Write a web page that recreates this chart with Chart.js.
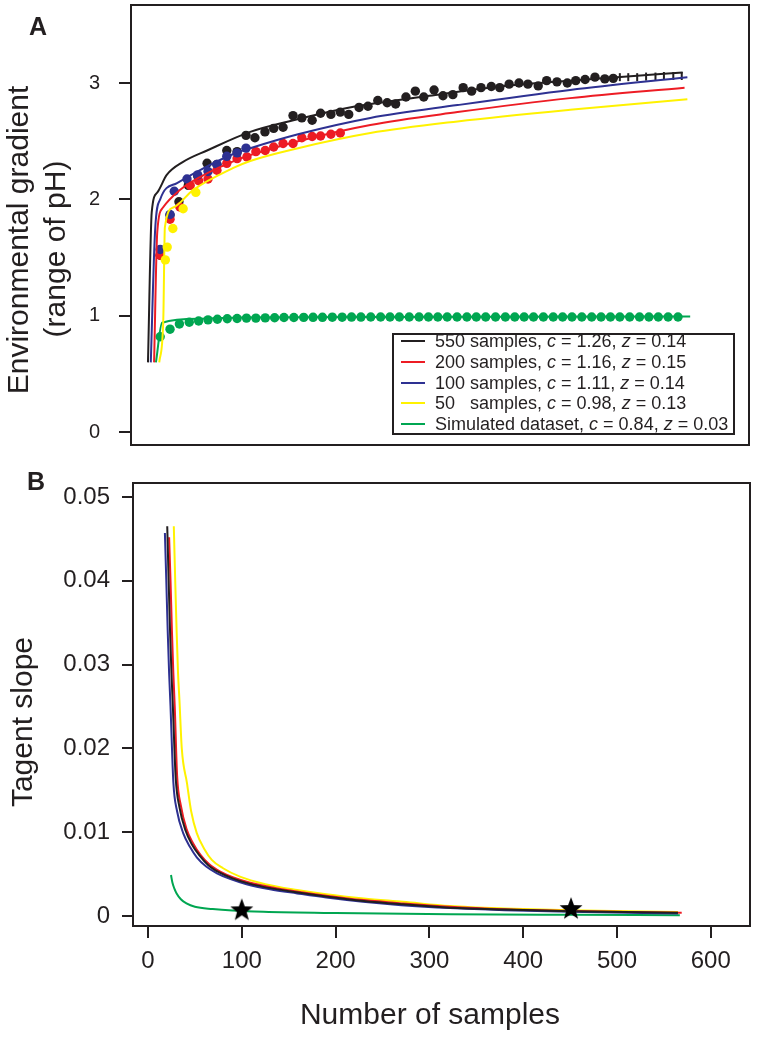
<!DOCTYPE html>
<html><head><meta charset="utf-8">
<script src="https://cdn.jsdelivr.net/npm/chart.js@4.4.1/dist/chart.umd.min.js"></script>
<style>
html,body{margin:0;padding:0;background:#fff;}
body{width:759px;height:1040px;position:relative;overflow:hidden;font-family:"Liberation Sans",Arial,sans-serif;color:#231f20;}
canvas{position:absolute;left:0;}
#cA{top:0;}
#cB{top:470px;}
.lbl{position:absolute;white-space:pre;}
.rot{text-align:center;transform:rotate(-90deg);font-size:30px;line-height:30px;height:30px;width:420px;}
.ttl{font-size:30px;line-height:30px;height:30px;width:400px;text-align:center;}
.panel{font-weight:bold;font-size:25px;line-height:25px;}
#legendBox{position:absolute;left:392px;top:333px;width:343px;height:102px;border:2px solid #231f20;box-sizing:border-box;background:#fff;}
.legTxt{font-size:18px;line-height:20px;}
.legLine{position:absolute;height:2px;width:24px;}
</style>
</head><body>
<canvas id="cA" width="759" height="470"></canvas>
<canvas id="cB" width="759" height="570"></canvas>
<div id="legendBox"></div>
<div class="lbl panel" style="left:29px;top:14px;">A</div>
<div class="lbl panel" style="left:27px;top:469px;">B</div>
<div class="lbl rot" style="left:-192px;top:225px;">Environmental gradient</div>
<div class="lbl rot" style="left:-155px;top:234px;">(range of pH)</div>
<div class="lbl rot" style="left:-188px;top:707px;">Tagent slope</div>
<div class="lbl ttl" style="left:230px;top:999px;">Number of samples</div>
<script>
// ---------- data ----------
const seriesColors = ['#231f20', '#ed1c24', '#2e3192', '#fff200', '#00a651'];
const legendNames = ['550 samples', '200 samples', '100 samples', '50   samples', 'Simulated dataset'];
const legendC = ['1.26', '1.16', '1.11', '0.98', '0.84'];
const legendZ = ['0.14', '0.15', '0.14', '0.13', '0.03'];

// Panel A ticks
const yTicksA = [0, 1, 2, 3];
// Panel B ticks
const xTicksB = [0, 100, 200, 300, 400, 500, 600];
const yTicksB = [0, 0.01, 0.02, 0.03, 0.04, 0.05];
const yTickLabelsB = ['0', '0.01', '0.02', '0.03', '0.04', '0.05'];

// Panel A observed points
const blackDotsX = [13, 23.5, 33, 43, 53, 63, 73.5, 84, 95, 104.5, 114, 124.7, 134, 144, 154.6, 164, 175, 184, 195, 205, 214, 225, 234.5, 245, 255, 264, 275, 285, 294, 305, 314.5, 325, 336, 345, 355, 366, 375, 385, 395.5, 405, 416, 425, 436, 447, 456, 466, 476.5, 487, 496];
const blackDotsY = [1.52, 1.865, 1.98, 2.12, 2.2, 2.31, 2.30, 2.42, 2.41, 2.55, 2.53, 2.58, 2.61, 2.62, 2.72, 2.70, 2.68, 2.74, 2.73, 2.75, 2.73, 2.79, 2.80, 2.85, 2.83, 2.82, 2.88, 2.93, 2.88, 2.94, 2.89, 2.90, 2.96, 2.93, 2.96, 2.97, 2.96, 2.99, 3.00, 2.99, 2.975, 3.02, 3.01, 3.00, 3.02, 3.03, 3.05, 3.035, 3.04];
const blackTailX = [503, 512, 521.5, 531, 541, 550, 560, 569];
const blackTailY = [3.05, 3.05, 3.05, 3.055, 3.055, 3.06, 3.06, 3.06];
const redDotsX = [13, 23.5, 34, 45, 54, 64, 73.5, 84, 95, 105.5, 115, 125, 134, 144, 154.6, 164, 175, 184, 195, 205];
const redDotsY = [1.52, 1.83, 1.935, 2.12, 2.16, 2.175, 2.25, 2.31, 2.35, 2.365, 2.41, 2.42, 2.45, 2.48, 2.48, 2.53, 2.54, 2.545, 2.56, 2.57];
const blueDotsX = [13, 23.5, 28, 41.6, 53, 64, 73.5, 84, 95, 104.5];
const blueDotsY = [1.57, 1.87, 2.07, 2.175, 2.21, 2.24, 2.30, 2.37, 2.40, 2.44];
const yellowDotsX = [18.5, 20.5, 26.5, 37.5, 51];
const yellowDotsY = [1.48, 1.59, 1.75, 1.92, 2.06];
const greenDotsX = [13, 23.5, 33.5, 44, 54, 64, 74, 84.5, 95, 105, 115, 125, 135, 145, 155.5, 166, 176, 186, 196.5, 207, 217, 227, 237.5, 248, 258, 268, 278.5, 289, 299, 309, 319, 329.5, 340, 350, 360, 370.5, 381, 391, 401, 411, 421.5, 432, 442, 452, 462.5, 473, 483, 493, 503, 513.5, 524, 534, 544, 554.5, 565];
const greenDotsY = [0.82, 0.885, 0.93, 0.945, 0.955, 0.965, 0.97, 0.975, 0.977, 0.98, 0.98, 0.982, 0.983, 0.985, 0.985, 0.986, 0.987, 0.987, 0.988, 0.988, 0.989, 0.989, 0.99, 0.99, 0.99, 0.99, 0.99, 0.99, 0.99, 0.99, 0.99, 0.99, 0.99, 0.99, 0.99, 0.99, 0.99, 0.99, 0.99, 0.99, 0.99, 0.99, 0.99, 0.99, 0.99, 0.99, 0.99, 0.99, 0.99, 0.99, 0.99, 0.99, 0.99, 0.99, 0.99];

// Panel A fitted curves
const blackFitX = [0, 4, 10, 20, 37, 63, 109, 155, 215, 300, 375, 450, 500, 570];
const blackFitY = [0.6, 1.89, 2.06, 2.21, 2.32, 2.42, 2.58, 2.68, 2.79, 2.89, 2.97, 3.02, 3.05, 3.09];
const redFitX = [6.5, 9.9, 16, 34, 55, 98, 109, 160, 237, 330, 450, 572];
const redFitY = [0.6, 1.72, 1.93, 2.08, 2.19, 2.35, 2.38, 2.50, 2.64, 2.75, 2.87, 2.96];
const blueFitX = [3, 7.5, 13, 31, 55, 91, 109, 160, 237, 330, 450, 575];
const blueFitY = [0.6, 1.72, 2.0, 2.14, 2.25, 2.39, 2.44, 2.56, 2.70, 2.81, 2.94, 3.05];
const yellowFitX = [12, 16.3, 18, 27, 48, 91, 109, 160, 237, 330, 450, 575];
const yellowFitY = [0.6, 0.96, 1.76, 1.93, 2.08, 2.27, 2.33, 2.44, 2.57, 2.67, 2.77, 2.86];
const greenFitX = [8.5, 15, 55, 100, 269, 578];
const greenFitY = [0.6, 0.94, 0.975, 0.985, 0.99, 0.995];

// Panel B tangent slopes
const blackSlopeX = [20.5, 22, 23.5, 25, 26.5, 29.5, 33.5, 40, 47, 55, 64, 76, 90, 107, 132, 160, 192, 230, 272, 322, 380, 450, 565];
const blackSlopeY = [0.0465, 0.040, 0.034, 0.029, 0.025, 0.0165, 0.013, 0.0102, 0.0085, 0.0072, 0.0061, 0.0052, 0.0045, 0.0039, 0.0033, 0.0028, 0.0023, 0.0018, 0.0014, 0.0010, 0.00078, 0.00058, 0.00038];
const redSlopeX = [22.5, 24, 25.5, 27, 28.5, 31, 35, 41, 48, 56, 65, 77, 91, 108, 133, 160, 192, 230, 272, 322, 380, 450, 569];
const redSlopeY = [0.0452, 0.040, 0.034, 0.029, 0.025, 0.0168, 0.0132, 0.0104, 0.0087, 0.0073, 0.0062, 0.0053, 0.0046, 0.0040, 0.0034, 0.0029, 0.0024, 0.0019, 0.0015, 0.0011, 0.0008, 0.0006, 0.0004];
const blueSlopeX = [18, 19.5, 21, 22.5, 24, 27, 31, 37.5, 45, 52, 62, 73.5, 88, 105, 130, 159, 190, 229, 270, 322, 380, 450, 565];
const blueSlopeY = [0.0457, 0.040, 0.034, 0.029, 0.025, 0.016, 0.0125, 0.0099, 0.0082, 0.0070, 0.0059, 0.0051, 0.0044, 0.0038, 0.0032, 0.0027, 0.0022, 0.0017, 0.0013, 0.00095, 0.0007, 0.0005, 0.0003];
const yellowSlopeX = [27.5, 29, 30.5, 32, 33.5, 36, 41.5, 46, 52, 60, 68, 80, 98, 125, 159, 190, 230, 272, 322, 380, 450, 565];
const yellowSlopeY = [0.0465, 0.040, 0.034, 0.029, 0.0258, 0.020, 0.0159, 0.0125, 0.0099, 0.0080, 0.0067, 0.0057, 0.0047, 0.0038, 0.0031, 0.0026, 0.0021, 0.0017, 0.0012, 0.0009, 0.00068, 0.00048];
const greenSlopeX = [24.5, 26, 28, 30.5, 35, 41, 50, 69, 90, 123, 200, 322, 450, 567];
const greenSlopeY = [0.0049, 0.0040, 0.0033, 0.0027, 0.0020, 0.0015, 0.0011, 0.00083, 0.00065, 0.0005, 0.00035, 0.00022, 0.00015, 0.0001];
const starX = [100, 451];
const starY = [0.0008, 0.00095];

// ---------- helpers ----------
const FF = '"Liberation Sans", Arial, sans-serif';
const INK = '#231f20';
Chart.defaults.font.family = FF;
Chart.defaults.color = INK;
const pts = (xs, ys) => xs.map((x, i) => ({x: x, y: ys[i]}));

function lineDS(xs, ys, color, order) {
  return {data: pts(xs, ys), showLine: true, borderColor: color, backgroundColor: color,
    borderWidth: 2, pointRadius: 0, pointHoverRadius: 0, tension: 0.4,
    cubicInterpolationMode: 'monotone', order: order};
}
function dotDS(xs, ys, color, order) {
  return {data: pts(xs, ys), showLine: false, backgroundColor: color, borderColor: color,
    borderWidth: 0, pointRadius: 4.7, pointHoverRadius: 4.7, order: order};
}
function makeStar(size) {
  const c = document.createElement('canvas');
  c.width = size; c.height = size;
  const g = c.getContext('2d');
  g.fillStyle = '#000';
  g.beginPath();
  const R = size / 2, r = R * 0.42, cx = size / 2, cy = size / 2 + R * 0.09;
  for (let i = 0; i < 10; i++) {
    const rad = i % 2 ? r : R;
    const a = -Math.PI / 2 + i * Math.PI / 5;
    g.lineTo(cx + rad * Math.cos(a), cy + rad * Math.sin(a));
  }
  g.closePath();
  g.fill();
  return c;
}
const boxPlugin = {
  id: 'box',
  afterDraw(chart) {
    const a = chart.chartArea, ctx = chart.ctx;
    ctx.save();
    ctx.strokeStyle = INK;
    ctx.lineWidth = 2;
    ctx.strokeRect(a.left, a.top, a.right - a.left, a.bottom - a.top);
    ctx.restore();
  }
};
function fixSize(w, h) {
  return s => {
    if (w !== null) s.width = w;
    if (h !== null) s.height = h;
    s.paddingTop = 0; s.paddingBottom = 0; s.paddingLeft = 0; s.paddingRight = 0;
  };
}

// ---------- Panel A ----------
new Chart(document.getElementById('cA'), {
  type: 'scatter',
  data: {datasets: [
    lineDS(blackFitX, blackFitY, seriesColors[0], 0),
    lineDS(blueFitX, blueFitY, seriesColors[2], 1),
    lineDS(redFitX, redFitY, seriesColors[1], 2),
    lineDS(yellowFitX, yellowFitY, seriesColors[3], 3),
    lineDS(greenFitX, greenFitY, seriesColors[4], 4),
    dotDS(greenDotsX, greenDotsY, seriesColors[4], 5),
    dotDS(yellowDotsX, yellowDotsY, seriesColors[3], 6),
    dotDS(blueDotsX, blueDotsY, seriesColors[2], 7),
    dotDS(redDotsX, redDotsY, seriesColors[1], 8),
    dotDS(blackDotsX, blackDotsY, seriesColors[0], 9),
    {data: pts(blackTailX, blackTailY), showLine: false, pointStyle: 'line', rotation: 90,
      pointRadius: 4, borderWidth: 2, borderColor: seriesColors[0], order: 9}
  ]},
  options: {
    responsive: false, animation: false,
    layout: {autoPadding: false, padding: {left: 0, top: 5, right: 10, bottom: 25}},
    plugins: {legend: {display: false}, tooltip: {enabled: false}},
    scales: {
      x: {type: 'linear', display: false, min: -18.1, max: 640.7},
      y: {type: 'linear', min: -0.11, max: 3.67,
        afterFit: fixSize(131, null),
        afterBuildTicks: s => { s.ticks = yTicksA.map(v => ({value: v})); },
        ticks: {color: INK, font: {size: 20, family: FF}, padding: 19, callback: v => String(v)},
        grid: {drawOnChartArea: false, drawTicks: true, tickLength: 12, color: INK, lineWidth: 2},
        border: {display: true, color: INK, width: 2}
      }
    }
  },
  plugins: [boxPlugin]
});

// ---------- Panel B ----------
const star = makeStar(24);
new Chart(document.getElementById('cB'), {
  type: 'scatter',
  data: {datasets: [
    {data: pts(starX, starY), showLine: false, pointStyle: star, pointRadius: 11, order: -1},
    lineDS(blackSlopeX, blackSlopeY, seriesColors[0], 0),
    lineDS(blueSlopeX, blueSlopeY, seriesColors[2], 1),
    lineDS(redSlopeX, redSlopeY, seriesColors[1], 2),
    lineDS(yellowSlopeX, yellowSlopeY, seriesColors[3], 3),
    lineDS(greenSlopeX, greenSlopeY, seriesColors[4], 4)
  ]},
  options: {
    responsive: false, animation: false,
    layout: {autoPadding: false, padding: {left: 0, top: 13, right: 9, bottom: 0}},
    plugins: {legend: {display: false}, tooltip: {enabled: false}},
    scales: {
      x: {type: 'linear', min: -16, max: 641.8,
        afterFit: fixSize(null, 114),
        afterBuildTicks: s => { s.ticks = xTicksB.map(v => ({value: v})); },
        ticks: {color: INK, font: {size: 24, family: FF}, padding: 9, maxRotation: 0, autoSkip: false,
          callback: v => String(v)},
        grid: {drawOnChartArea: false, drawTicks: true, tickLength: 12, color: INK, lineWidth: 2},
        border: {display: true, color: INK, width: 2}
      },
      y: {type: 'linear', min: -0.00119, max: 0.05167,
        afterFit: fixSize(133, null),
        afterBuildTicks: s => { s.ticks = yTicksB.map(v => ({value: v})); },
        ticks: {color: INK, font: {size: 24, family: FF}, padding: 12,
          callback: (v, i) => yTickLabelsB[i]},
        grid: {drawOnChartArea: false, drawTicks: true, tickLength: 11, color: INK, lineWidth: 2},
        border: {display: true, color: INK, width: 2}
      }
    }
  },
  plugins: [boxPlugin]
});

// ---------- Legend (HTML, italic c and z) ----------
legendNames.forEach((name, i) => {
  const cy = 341 + 20.75 * i;
  const ln = document.createElement('div');
  ln.className = 'legLine';
  ln.style.left = '401px';
  ln.style.top = (cy - 1) + 'px';
  ln.style.background = seriesColors[i];
  document.body.appendChild(ln);
  const t = document.createElement('div');
  t.className = 'lbl legTxt';
  t.style.left = '435px';
  t.style.top = (cy - 9.8) + 'px';
  t.innerHTML = name + ', <i>c</i> = ' + legendC[i] + ', <i>z</i> = ' + legendZ[i];
  document.body.appendChild(t);
});
</script>
</body></html>
